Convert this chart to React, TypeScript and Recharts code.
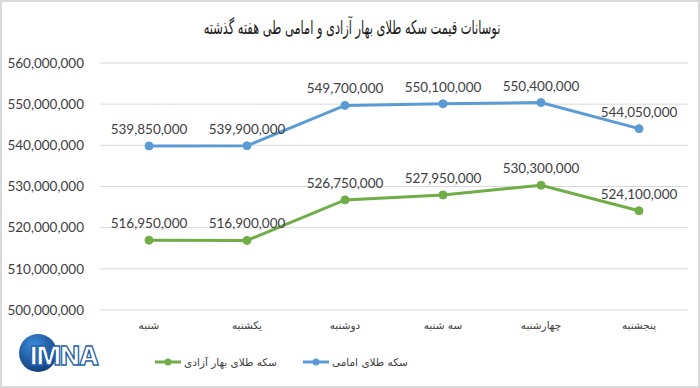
import { LineChart, Line, XAxis, YAxis, CartesianGrid, LabelList } from 'recharts'

document.body.style.margin = '0'

const days = ['شنبه', 'یکشنبه', 'دوشنبه', 'سه شنبه', 'چهارشنبه', 'پنجشنبه']
const emami = [539850000, 539900000, 549700000, 550100000, 550400000, 544050000]
const baharAzadi = [516950000, 516900000, 526750000, 527950000, 530300000, 524100000]
const yTicks = [500000000, 510000000, 520000000, 530000000, 540000000, 550000000, 560000000]

const title = 'نوسانات قیمت سکه طلای بهار آزادی و امامی طی هفته گذشته'
const emamiName = 'سکه طلای امامی'
const baharName = 'سکه طلای بهار  آزادی'

const data = days.map((d, i) => ({ day: d, emami: emami[i], bahar: baharAzadi[i] }))

const fmt = (v: number) => v.toLocaleString('en-US')
const numFont = 'Lato, "Open Sans", sans-serif'
const faFont = '"DejaVu Sans", sans-serif'

function LegendBox() {
  const items = [
    { name: baharName, color: '#70ad47' },
    { name: emamiName, color: '#5b9bd5' },
  ]
  return (
    <div style={{ position: 'absolute', left: 153, top: 354, display: 'flex', gap: 26, alignItems: 'center' }}>
      {items.map((it) => (
        <div key={it.name} style={{ display: 'flex', alignItems: 'center', gap: 3 }}>
          <svg width={26} height={10}>
            <line x1={0} y1={5} x2={26} y2={5} stroke={it.color} strokeWidth={3} />
            <circle cx={13} cy={5} r={3.5} fill={it.color} />
          </svg>
          <span style={{ fontFamily: faFont, fontSize: 10.5, color: '#404040' }}>{it.name}</span>
        </div>
      ))}
    </div>
  )
}

function Logo() {
  return (
    <svg width={100} height={50} style={{ position: 'absolute', left: 10, top: 328 }}>
      <defs>
        <radialGradient id="lg" cx="40%" cy="30%" r="75%">
          <stop offset="0%" stopColor="#3d8ddb" />
          <stop offset="100%" stopColor="#0f3a78" />
        </radialGradient>
      </defs>
      <circle cx={26} cy={23} r={19} fill="url(#lg)" />
      <text x={52} y={35} textAnchor="middle" fontFamily="Inter, sans-serif" fontWeight={800}
        fontSize={26} fill="#ffffff" stroke="#1f5fa8" strokeWidth={1.3} letterSpacing={-1}>IMNA</text>
    </svg>
  )
}

export default function App() {
  return (
    <div style={{ position: 'relative', width: 700, height: 388, background: '#fff', boxSizing: 'border-box', border: '2px solid #d9d9d9', overflow: 'hidden' }}>
      <div style={{ position: 'absolute', top: 14, left: 0, width: 700, textAlign: 'center', fontFamily: faFont, fontSize: 19, color: '#1a1a1a', transform: 'scaleX(0.6)' }}>
        {title}
      </div>
      <div style={{ position: 'absolute', left: -2, top: -2 }}>
        <LineChart width={700} height={388} data={data} margin={{ top: 63, right: 12, left: 0, bottom: 48 }}>
          <CartesianGrid vertical={false} stroke="#d9d9d9" />
          <XAxis dataKey="day" axisLine={false} tickLine={false} interval={0} padding={{ left: 49, right: 49 }}
            tick={{ fontSize: 10.5, fill: '#404040', fontFamily: faFont }} tickMargin={6} height={30} />
          <YAxis domain={[500000000, 560000000]} ticks={yTicks} width={100} axisLine={false} tickLine={false}
            tickFormatter={fmt} tick={{ fontSize: 13.5, fill: '#404040', fontFamily: numFont }} tickMargin={10} />
          <Line dataKey="emami" name={emamiName} stroke="#5b9bd5" strokeWidth={3} isAnimationActive={false}
            dot={{ r: 4, fill: '#5b9bd5', stroke: '#5b9bd5', strokeWidth: 1 }}>
            <LabelList dataKey="emami" position="top" offset={12} formatter={fmt}
              style={{ fontSize: 13.5, fill: '#404040', fontFamily: numFont }} />
          </Line>
          <Line dataKey="bahar" name={baharName} stroke="#70ad47" strokeWidth={3} isAnimationActive={false}
            dot={{ r: 4, fill: '#70ad47', stroke: '#70ad47', strokeWidth: 1 }}>
            <LabelList dataKey="bahar" position="top" offset={12} formatter={fmt}
              style={{ fontSize: 13.5, fill: '#404040', fontFamily: numFont }} />
          </Line>
        </LineChart>
      </div>
      <LegendBox />
      <Logo />
    </div>
  )
}
